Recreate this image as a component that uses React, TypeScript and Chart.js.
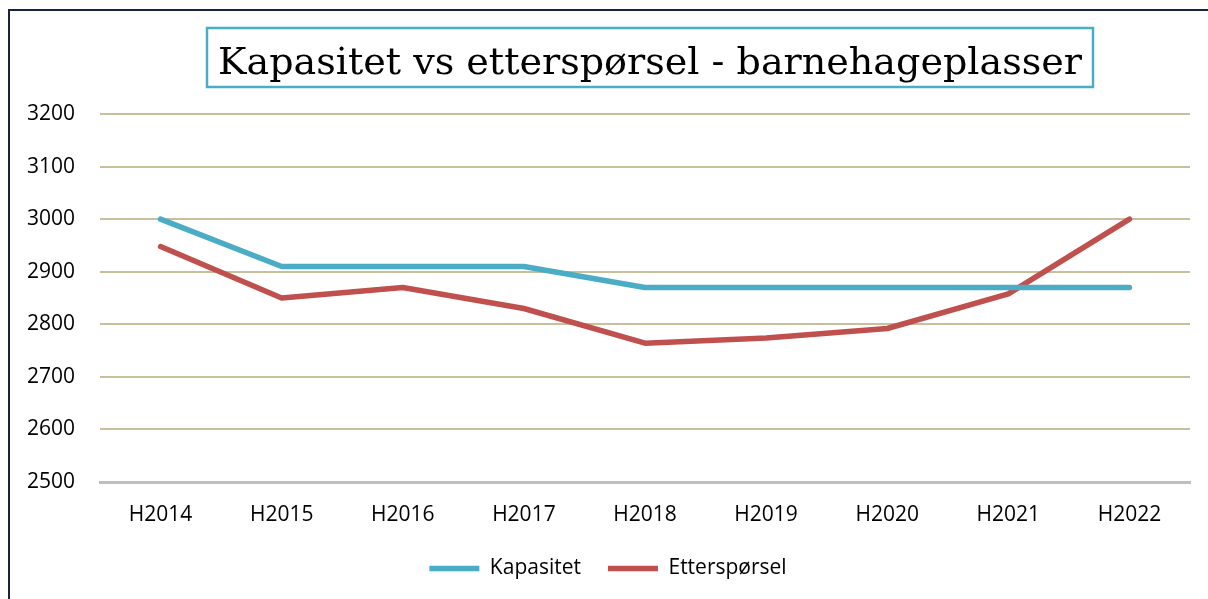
import React, { useEffect, useRef } from "react";
import { Chart, registerables } from "chart.js";

Chart.register(...registerables);

const categories = ["H2014", "H2015", "H2016", "H2017", "H2018", "H2019", "H2020", "H2021", "H2022"];
const kapasitet = [3000, 2910, 2910, 2910, 2870, 2870, 2870, 2870, 2870];
const etterspoersel = [2948, 2850, 2870, 2830, 2764, 2774, 2792, 2858, 3000];
const yMin = 2500;
const yMax = 3200;
const yStep = 100;
const titleText = "Kapasitet vs etterspørsel - barnehageplasser";
const seriesNames = ["Kapasitet", "Etterspørsel"];

const SANS = '"Open Sans", "Noto Sans", sans-serif';

const titleBoxPlugin = {
  id: "titleBox",
  afterDraw(chart: any) {
    const ctx = chart.ctx as CanvasRenderingContext2D;
    const area = chart.chartArea;
    const cx = (area.left + area.right) / 2 + 5;
    ctx.save();
    ctx.font = '38px "DejaVu Serif", serif';
    const w = ctx.measureText(titleText).width;
    const target = 864;
    const sx = target / w;
    const boxW = 886;
    ctx.strokeStyle = "#4bacc6";
    ctx.lineWidth = 2.5;
    ctx.strokeRect(cx - boxW / 2, 28, boxW, 59);
    ctx.fillStyle = "#000";
    ctx.textAlign = "center";
    ctx.textBaseline = "alphabetic";
    ctx.translate(cx, 74);
    ctx.scale(sx, 1);
    ctx.fillText(titleText, 0, 0);
    ctx.restore();
  },
};

export default function App() {
  const ref = useRef<HTMLCanvasElement | null>(null);

  useEffect(() => {
    if (!ref.current) return;
    const chart = new Chart(ref.current, {
      type: "line",
      data: {
        labels: categories,
        datasets: [
          {
            label: seriesNames[0],
            data: kapasitet,
            borderColor: "#4bacc6",
            backgroundColor: "#4bacc6",
            borderWidth: 5.5,
            pointRadius: 0,
            pointHoverRadius: 0,
            borderCapStyle: "round",
            borderJoinStyle: "round",
            tension: 0,
            fill: false,
          },
          {
            label: seriesNames[1],
            data: etterspoersel,
            borderColor: "#c0504d",
            backgroundColor: "#c0504d",
            borderWidth: 5.5,
            pointRadius: 0,
            pointHoverRadius: 0,
            borderCapStyle: "round",
            borderJoinStyle: "round",
            tension: 0,
            fill: false,
          },
        ],
      },
      options: {
        animation: false,
        responsive: false,
        maintainAspectRatio: false,
        layout: { padding: { top: 114, right: 18, bottom: 10, left: 26 } },
        plugins: {
          title: { display: false },
          tooltip: { enabled: false },
          legend: {
            display: true,
            position: "bottom",
            labels: {
              usePointStyle: true,
              pointStyle: "line",
              pointStyleWidth: 50,
              color: "#000",
              font: { family: SANS, size: 21 },
              padding: 27,
            },
          },
        },
        scales: {
          x: {
            offset: true,
            grid: { display: false, drawTicks: false },
            border: { display: true, color: "#bfbfbf", width: 3 },
            ticks: { color: "#000", font: { family: SANS, size: 21 }, padding: 20 },
            afterFit(scale: any) {
              scale.height = 49;
            },
          },
          y: {
            min: yMin,
            max: yMax,
            ticks: {
              stepSize: yStep,
              color: "#000",
              font: { family: SANS, size: 21 },
              padding: 25,
              callback: (v: any) => String(v),
            },
            grid: {
              drawTicks: false,
              lineWidth: 2,
              color: (c: any) => (c.tick && c.tick.value === yMin ? "rgba(0,0,0,0)" : "#c8c09c"),
            },
            border: { display: false },
            afterFit(scale: any) {
              scale.width = 74;
            },
          },
        },
      },
      plugins: [titleBoxPlugin],
    } as any);
    return () => chart.destroy();
  }, []);

  return (
    <div style={{ position: "absolute", left: 0, top: 0, width: 1208, height: 599, background: "#fff", overflow: "hidden" }}>
      <div
        style={{
          position: "absolute",
          left: 8,
          top: 9,
          right: 0,
          bottom: 0,
          borderLeft: "2px solid #17233f",
          borderTop: "2px solid #17233f",
        }}
      />
      <canvas ref={ref} width={1208} height={599} style={{ position: "absolute", left: 0, top: 0, width: 1208, height: 599 }} />
    </div>
  );
}
